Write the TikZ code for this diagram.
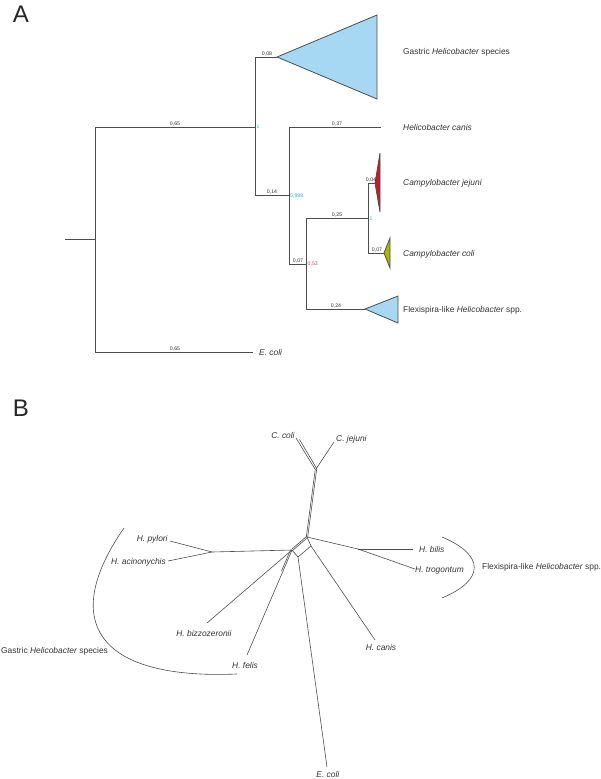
\documentclass[tikz,border=0pt]{standalone}
\usepackage{fontspec}
\setmainfont{Liberation Sans}
\definecolor{linegray}{RGB}{77,77,77}
\definecolor{cladeblue}{RGB}{166,216,244}
\definecolor{jejunired}{RGB}{200,24,48}
\definecolor{coligreen}{RGB}{170,184,0}
\definecolor{supblue}{RGB}{41,171,226}
\definecolor{supred}{RGB}{236,60,70}
\tikzset{
  branch/.style={draw=linegray, line width=0.8pt},
  net/.style={draw=linegray, line width=0.6pt},
  clade/.style={draw=linegray, line width=0.8pt, line join=miter},
  taxon/.style={font=\fontsize{8.4}{10}\selectfont, text=black!80, inner sep=0pt},
  blen/.style={font=\fontsize{5.2}{6}\selectfont, text=black!80, inner sep=0pt, anchor=base},
  supp/.style={font=\fontsize{5.2}{6}\selectfont, inner sep=0pt, anchor=west},
  panel/.style={font=\fontsize{24}{28}\selectfont, text=black!85, inner sep=0pt}
}

\begin{document}
\begin{tikzpicture}[x=1pt,y=-1pt]
\useasboundingbox (0,0) rectangle (600,779);

% panel A
\node[panel] (labA) at (21,14) {A};
\coordinate (root) at (65,239);
\coordinate (n0) at (95,239);
\coordinate (n1) at (255,127);
\coordinate (n2) at (289,195);
\coordinate (n3) at (306,264);
\coordinate (n4) at (368,218);
\coordinate (gastric) at (277,57);
\coordinate (canisend) at (381,127);
\coordinate (jej) at (375,183);
\coordinate (col) at (384,253);
\coordinate (flex) at (365,309);

\node[taxon, anchor=west] (gastricA) at (403,52) {Gastric \textit{Helicobacter} species};
\node[taxon, anchor=west] (canisA) at (403,127) {\textit{Helicobacter canis}};
\node[taxon, anchor=west] (jejuniA) at (403,183) {\textit{Campylobacter jejuni}};
\node[taxon, anchor=west] (coliA) at (403,254) {\textit{Campylobacter coli}};
\node[taxon, anchor=west] (flexA) at (403,310) {Flexispira-like \textit{Helicobacter} spp.};
\node[taxon, anchor=west] (ecoliA) at (259,352) {\textit{E. coli}};

\draw[branch] (root) -- (n0);
\draw[branch] (n0) |- (n1);
\draw[branch] (n0) |- ([xshift=-6]ecoliA.west);
\draw[branch] (n1) |- (gastric);
\draw[branch] (n1) |- (n2);
\draw[branch] (n2) |- (canisend);
\draw[branch] (n2) |- (n3);
\draw[branch] (n3) |- (n4);
\draw[branch] (n3) |- (flex);
\draw[branch] (n4) |- (jej);
\draw[branch] (n4) |- (col);

\draw[clade, fill=cladeblue] (gastric) -- (377,15) -- (377,99) -- cycle;
\draw[clade, fill=jejunired] (jej) -- (380,153) -- (380,212) -- cycle;
\draw[clade, fill=coligreen] (col) -- (390,238) -- (390,268) -- cycle;
\draw[clade, fill=cladeblue] (flex) -- (398,296) -- (398,323) -- cycle;

\node[blen] (bl1) at (175,125.5) {0,65};
\node[blen] (bl2) at (175,350.5) {0,65};
\node[blen] (bl3) at (267,55.5) {0,08};
\node[blen] (bl4) at (272,193.5) {0,14};
\node[blen] (bl5) at (337,125.5) {0,37};
\node[blen] (bl6) at (298,262.5) {0,07};
\node[blen] (bl7) at (337,216.5) {0,25};
\node[blen] (bl8) at (371,181.5) {0,04};
\node[blen] (bl9) at (377,251.5) {0,07};
\node[blen] (bl10) at (336,307.5) {0,24};

\node[supp, text=supblue] (s1) at (256.5,127) {1};
\node[supp, text=supblue] (s2) at (290,196) {0,998};
\node[supp, text=supred] (s3) at (307.5,264.5) {0,53};
\node[supp, text=supblue] (s4) at (369.5,219) {1};

% panel B
\node[panel] (labB) at (21,408) {B};
\coordinate (cj) at (316,469);
\coordinate (ha) at (307,537);
\coordinate (hb) at (292,550);
\coordinate (hc) at (311,546);
\coordinate (hd) at (298,557);
\coordinate (hf) at (283,571);
\coordinate (pj) at (212,552);
\coordinate (bj) at (358,549);
\coordinate (cc1) at (296,438);
\coordinate (cc2) at (299.5,439.5);
\coordinate (cjt) at (334,442);
\coordinate (pyt) at (170,541);
\coordinate (act) at (168,561);
\coordinate (bit) at (413,549);
\coordinate (trt) at (415,569);
\coordinate (bzt) at (207,623);
\coordinate (fet) at (247,655);
\coordinate (cat) at (375,640);
\coordinate (ect) at (327,767);

\node[taxon, anchor=east] (ccoliB) at (295,435.5) {\textit{C. coli}};
\node[taxon, anchor=west] (cjejuniB) at (336,439) {\textit{C. jejuni}};
\node[taxon, anchor=east] (pyloriB) at (168,539) {\textit{H. pylori}};
\node[taxon, anchor=east] (acinB) at (166,562) {\textit{H. acinonychis}};
\node[taxon, anchor=west] (bilisB) at (419,549) {\textit{H. bilis}};
\node[taxon, anchor=west] (trogB) at (415,570) {\textit{H. trogontum}};
\node[taxon] (bizzB) at (204,633) {\textit{H. bizzozeronii}};
\node[taxon, anchor=west] (felisB) at (232,665) {\textit{H. felis}};
\node[taxon] (canisB) at (381,647) {\textit{H. canis}};
\node[taxon] (ecoliB) at (328,774) {\textit{E. coli}};
\node[taxon, anchor=west] (flexB) at (482,567) {Flexispira-like \textit{Helicobacter} spp.};
\node[taxon, anchor=west] (gastricB) at (1,651) {Gastric \textit{Helicobacter} species};

\draw[net] ([xshift=-1]cj) -- (cc1);
\draw[net] ([xshift=1]cj) -- (cc2);
\draw[net] (cj) -- (cjt);
\draw[net] ([xshift=-0.7]cj) -- ([xshift=-0.7]ha);
\draw[net] ([xshift=0.7]cj) -- ([xshift=0.7]ha);
\draw[net] (ha) -- (bj);
\draw[net] (bj) -- (bit);
\draw[net] (bj) -- (trt);
\draw[net] ([yshift=-1]ha) -- ([yshift=-1]hb);
\draw[net] ([yshift=1]ha) -- ([yshift=1]hb);
\draw[net] (hb) -- (pj);
\draw[net] (pj) -- (pyt);
\draw[net] (pj) -- (act);
\draw[net] (ha) -- (hc);
\draw[net] (hc) -- (hd);
\draw[net] (hb) -- (hd);
\draw[net] (hc) -- (cat);
\draw[net] (hd) -- (ect);
\draw[net] (hb) -- (bzt);
\draw[net] (hb) -- (hf);
\draw[net] ([xshift=-1.5]hb) -- ([xshift=-1.5]hf);
\draw[net] (hf) -- (fet);

\draw[net] (124,528) .. controls (60,620) and (95,680) .. (237,674);
\draw[net] (442,537) .. controls (485,555) and (485,580) .. (442,598);
\end{tikzpicture}
\end{document}
